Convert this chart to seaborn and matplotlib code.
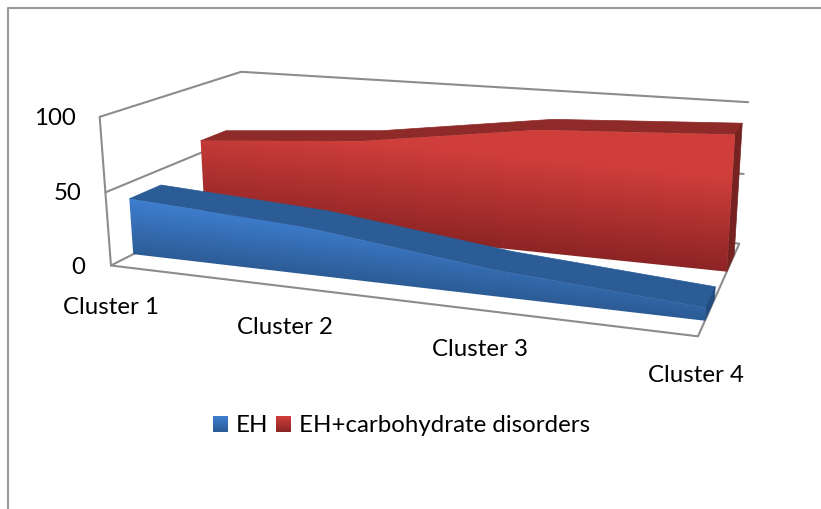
import numpy as np
import pandas as pd
import seaborn as sns
import matplotlib.pyplot as plt
from matplotlib.patches import Polygon

# values
clusters = ["Cluster 1", "Cluster 2", "Cluster 3", "Cluster 4"]
eh = [39, 32, 17, 8]
eh_carb = [59, 68, 85, 91]
y_ticks = [0, 50, 100]

sns.set_theme(style="white")
plt.rcParams["font.family"] = ["Lato", "DejaVu Sans"]

# camera of the 3D box: (category, value, depth) -> pixel, fitted on the box corners
calib = [
    ((0, 0, 0), (111, 266)), ((0, 100, 0), (100, 117)), ((0, 50, 0), (105, 192)),
    ((0, 0, 1), (247, 196)), ((0, 100, 1), (241, 72)),
    ((3, 0, 1), (739, 244)), ((3, 100, 1), (748, 102)), ((3, 50, 1), (744, 174)),
    ((3, 0, 0), (698, 336)),
]
A = []
b = []
for (x, y, z), (u, v) in calib:
    A.append([x, y, z, 1, 0, 0, 0, 0, -u * x, -u * y, -u * z])
    A.append([0, 0, 0, 0, x, y, z, 1, -v * x, -v * y, -v * z])
    b += [u, v]
P = np.append(np.linalg.lstsq(np.array(A, float), np.array(b, float), rcond=None)[0], 1).reshape(3, 4)


def proj(x, y, z):
    x, y, z = np.broadcast_arrays(np.asarray(x, float), np.asarray(y, float), np.asarray(z, float))
    h = np.stack([x, y, z, np.ones_like(x)])
    p = P @ h.reshape(4, -1)
    return np.column_stack([p[0] / p[2], p[1] / p[2]])


fig = plt.figure(figsize=(8.21, 5.09), dpi=100)
ax = fig.add_axes([0, 0, 1, 1])

# chart frame
ax.plot([8, 8, 821], [509, 8, 8], color="#9a9a9a", lw=1.5, zorder=1)

# walls and floor, one unit per line
wall_lines = [
    [(0, 0, 0), (0, 100, 0), (0, 100, 1), (3, 100, 1)],
    [(0, 50, 0), (0, 50, 1), (3, 50, 1)],
    [(0, 0, 1), (0, 0, 0), (3, 0, 0), (3, 0, 1), (0, 0, 1)],
]
rows = []
for i, line in enumerate(wall_lines):
    pts = proj(*np.array(line, float).T)
    for order, (px, py) in enumerate(pts):
        rows.append({"line": i, "order": order, "px": px, "py": py})
walls = pd.DataFrame(rows)
sns.lineplot(data=walls, x="px", y="py", units="line", estimator=None, sort=False,
             color="#8c8c8c", lw=1.5, legend=False, ax=ax, zorder=1)

xs = np.arange(len(clusters))


def area(values, z0, z1, grad, top_col, side_col, tilt, y0, y1, zo):
    values = np.array(values, float)
    # top face
    t = np.vstack([proj(xs, values, z0), proj(xs[::-1], values[::-1], z1)])
    ax.add_patch(Polygon(t, closed=True, fc=top_col, ec=top_col, lw=0.5, zorder=zo))
    # end face
    s = np.vstack([proj(3, 0, z0), proj(3, values[-1], z0), proj(3, values[-1], z1), proj(3, 0, z1)])
    ax.add_patch(Polygon(s, closed=True, fc=side_col, ec=side_col, lw=0.5, zorder=zo))
    # front face with gradient
    f = np.vstack([proj(xs, values, z0), proj(xs[::-1], 0 * xs, z0)])
    poly = Polygon(f, closed=True, fc="none", ec="none", zorder=zo)
    ax.add_patch(poly)
    gx, gy = np.meshgrid(np.arange(int(f[:, 0].min()) - 1, int(f[:, 0].max()) + 2),
                         np.arange(int(f[:, 1].min()) - 1, int(f[:, 1].max()) + 2))
    g = np.clip((gy - tilt * (gx - f[:, 0].min()) - y0) / (y1 - y0), 0, 1)[..., None]
    rgb = (np.array(grad[0]) * (1 - g) + np.array(grad[1]) * g) / 255
    im = ax.imshow(rgb, extent=(gx.min(), gx.max(), gy.max(), gy.min()), zorder=zo + 0.1,
                   interpolation="bilinear", aspect="auto")
    im.set_clip_path(poly)


red_grad = ((207, 62, 59), (140, 36, 36))
blue_grad = ((62, 126, 207), (44, 92, 150))
area(eh_carb, 0.65, 0.85, red_grad, "#8e2a27", "#752221", 0.1, 125, 220, 3)
area(eh, 0.14, 0.35, blue_grad, "#2c5c96", "#234d80", 0.114, 199, 254, 5)

fs = 17.3
for tick, px, py in zip(y_ticks, [85, 81, 76], [268, 194, 118]):
    ax.text(px, py, str(tick), ha="right", va="center", fontsize=fs, color="black")
for name, px, py in zip(clusters, [111, 285, 480, 696], [307, 328, 350, 376]):
    ax.text(px, py, name, ha="center", va="center", fontsize=fs, color="black")

# legend
for (x0, grad) in ((213, blue_grad), (276, red_grad)):
    g = np.linspace(0, 1, 16)[:, None, None]
    rgb = (np.array(grad[0]) * (1 - g) + np.array(grad[1]) * g) / 255
    ax.imshow(rgb, extent=(x0, x0 + 15, 432, 416), zorder=3, aspect="auto")
ax.text(236, 425, "EH", ha="left", va="center", fontsize=fs, color="black")
ax.text(299, 425, "EH+carbohydrate disorders", ha="left", va="center", fontsize=fs, color="black")

ax.set_xlim(0, 821)
ax.set_ylim(509, 0)
ax.axis("off")

plt.savefig("out.png", dpi=100)
plt.close()
